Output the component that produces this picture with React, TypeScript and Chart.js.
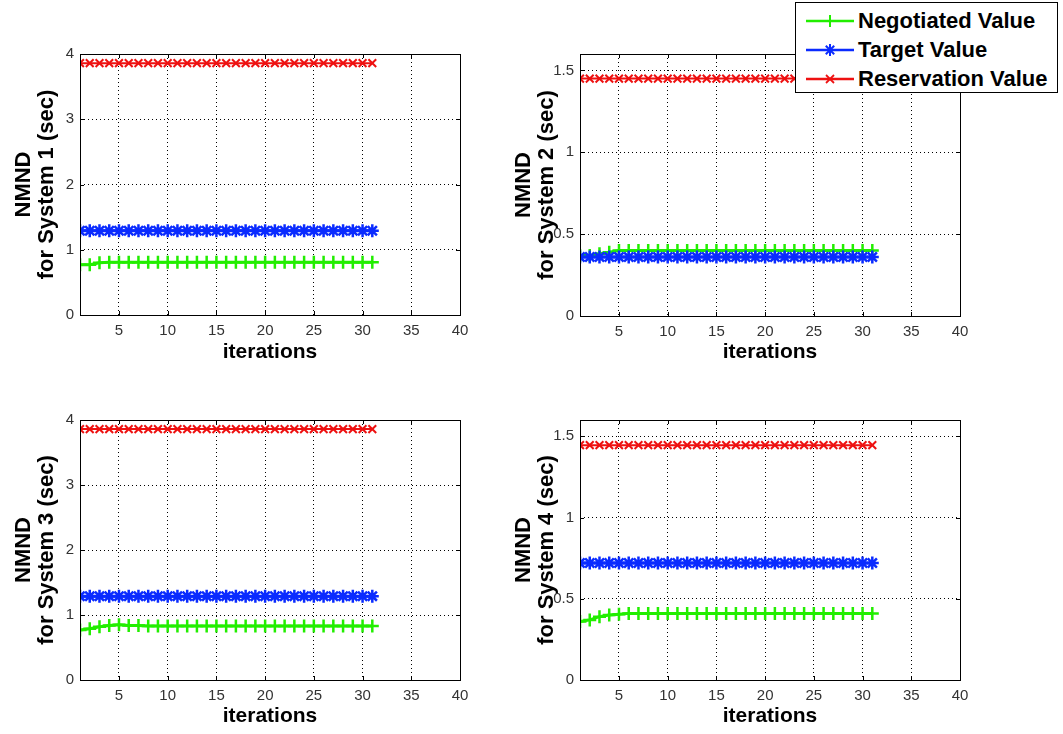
import React, { useEffect, useRef } from 'react';
import { Chart, registerables } from 'chart.js';
Chart.register(...registerables);

const iterations = [1, 2, 3, 4, 5, 6, 7, 8, 9, 10, 11, 12, 13, 14, 15, 16, 17, 18, 19, 20, 21, 22, 23, 24, 25, 26, 27, 28, 29, 30, 31];

const xTicks = [5, 10, 15, 20, 25, 30, 35, 40];
const yTicksBig = [0, 1, 2, 3, 4];
const yTicksSmall = [0, 0.5, 1, 1.5];

const seriesNames = ['Negotiated Value', 'Target Value', 'Reservation Value'];

// System 1
const negotiated1 = [0.77, 0.77, 0.8, 0.81, 0.81, 0.81, 0.81, 0.81, 0.81, 0.81, 0.81, 0.81, 0.81, 0.81, 0.81, 0.81, 0.81, 0.81, 0.81, 0.81, 0.81, 0.81, 0.81, 0.81, 0.81, 0.81, 0.81, 0.81, 0.81, 0.81, 0.81];
const target1 = [1.29, 1.29, 1.29, 1.29, 1.29, 1.29, 1.29, 1.29, 1.29, 1.29, 1.29, 1.29, 1.29, 1.29, 1.29, 1.29, 1.29, 1.29, 1.29, 1.29, 1.29, 1.29, 1.29, 1.29, 1.29, 1.29, 1.29, 1.29, 1.29, 1.29, 1.29];
const reservation1 = [3.86, 3.86, 3.86, 3.86, 3.86, 3.86, 3.86, 3.86, 3.86, 3.86, 3.86, 3.86, 3.86, 3.86, 3.86, 3.86, 3.86, 3.86, 3.86, 3.86, 3.86, 3.86, 3.86, 3.86, 3.86, 3.86, 3.86, 3.86, 3.86, 3.86, 3.86];

// System 2
const negotiated2 = [0.37, 0.37, 0.38, 0.39, 0.4, 0.4, 0.4, 0.4, 0.4, 0.4, 0.4, 0.4, 0.4, 0.4, 0.4, 0.4, 0.4, 0.4, 0.4, 0.4, 0.4, 0.4, 0.4, 0.4, 0.4, 0.4, 0.4, 0.4, 0.4, 0.4, 0.4];
const target2 = [0.36, 0.36, 0.36, 0.36, 0.36, 0.36, 0.36, 0.36, 0.36, 0.36, 0.36, 0.36, 0.36, 0.36, 0.36, 0.36, 0.36, 0.36, 0.36, 0.36, 0.36, 0.36, 0.36, 0.36, 0.36, 0.36, 0.36, 0.36, 0.36, 0.36, 0.36];
const reservation2 = [1.45, 1.45, 1.45, 1.45, 1.45, 1.45, 1.45, 1.45, 1.45, 1.45, 1.45, 1.45, 1.45, 1.45, 1.45, 1.45, 1.45, 1.45, 1.45, 1.45, 1.45, 1.45, 1.45, 1.45, 1.45, 1.45, 1.45, 1.45, 1.45, 1.45, 1.45];

// System 3
const negotiated3 = [0.77, 0.79, 0.82, 0.84, 0.85, 0.84, 0.84, 0.83, 0.83, 0.83, 0.83, 0.83, 0.83, 0.83, 0.83, 0.83, 0.83, 0.83, 0.83, 0.83, 0.83, 0.83, 0.83, 0.83, 0.83, 0.83, 0.83, 0.83, 0.83, 0.83, 0.83];
const target3 = [1.29, 1.29, 1.29, 1.29, 1.29, 1.29, 1.29, 1.29, 1.29, 1.29, 1.29, 1.29, 1.29, 1.29, 1.29, 1.29, 1.29, 1.29, 1.29, 1.29, 1.29, 1.29, 1.29, 1.29, 1.29, 1.29, 1.29, 1.29, 1.29, 1.29, 1.29];
const reservation3 = [3.86, 3.86, 3.86, 3.86, 3.86, 3.86, 3.86, 3.86, 3.86, 3.86, 3.86, 3.86, 3.86, 3.86, 3.86, 3.86, 3.86, 3.86, 3.86, 3.86, 3.86, 3.86, 3.86, 3.86, 3.86, 3.86, 3.86, 3.86, 3.86, 3.86, 3.86];

// System 4
const negotiated4 = [0.36, 0.37, 0.39, 0.4, 0.405, 0.41, 0.41, 0.41, 0.41, 0.41, 0.41, 0.41, 0.41, 0.41, 0.41, 0.41, 0.41, 0.41, 0.41, 0.41, 0.41, 0.41, 0.41, 0.41, 0.41, 0.41, 0.41, 0.41, 0.41, 0.41, 0.41];
const target4 = [0.72, 0.72, 0.72, 0.72, 0.72, 0.72, 0.72, 0.72, 0.72, 0.72, 0.72, 0.72, 0.72, 0.72, 0.72, 0.72, 0.72, 0.72, 0.72, 0.72, 0.72, 0.72, 0.72, 0.72, 0.72, 0.72, 0.72, 0.72, 0.72, 0.72, 0.72];
const reservation4 = [1.445, 1.445, 1.445, 1.445, 1.445, 1.445, 1.445, 1.445, 1.445, 1.445, 1.445, 1.445, 1.445, 1.445, 1.445, 1.445, 1.445, 1.445, 1.445, 1.445, 1.445, 1.445, 1.445, 1.445, 1.445, 1.445, 1.445, 1.445, 1.445, 1.445, 1.445];

const GREEN = '#22ee00';
const BLUE = '#0a2bff';
const RED = '#ee1111';
const FONT = "'Liberation Sans', Arial, sans-serif";

type PanelCfg = {
  left: number; top: number; width: number; height: number;
  plotLeft: number; plotTop: number; plotRight: number; plotBottom: number;
  yMax: number; yTicks: number[]; system: string;
  neg: number[]; tgt: number[]; res: number[];
};

const boxPlugin = {
  id: 'matlabBox',
  afterDraw(chart: any) {
    const { ctx, chartArea } = chart;
    const { left, top, right, bottom } = chartArea;
    ctx.save();
    ctx.strokeStyle = '#000';
    ctx.lineWidth = 1;
    ctx.setLineDash([]);
    ctx.strokeRect(Math.round(left) + 0.5, Math.round(top) + 0.5, Math.round(right - left), Math.round(bottom - top));
    const xs = chart.scales.x;
    const ys = chart.scales.y;
    ctx.beginPath();
    xs.ticks.forEach((t: any) => {
      const px = Math.round(xs.getPixelForValue(t.value)) + 0.5;
      ctx.moveTo(px, bottom); ctx.lineTo(px, bottom - 4);
      ctx.moveTo(px, top); ctx.lineTo(px, top + 4);
    });
    ys.ticks.forEach((t: any) => {
      const py = Math.round(ys.getPixelForValue(t.value)) + 0.5;
      ctx.moveTo(left, py); ctx.lineTo(left + 4, py);
      ctx.moveTo(right, py); ctx.lineTo(right - 4, py);
    });
    ctx.stroke();
    ctx.restore();
  },
};

function Panel({ cfg }: { cfg: PanelCfg }) {
  const ref = useRef<HTMLCanvasElement | null>(null);
  useEffect(() => {
    if (!ref.current) return;
    const yWidth = cfg.plotLeft - cfg.left;
    const xHeight = cfg.top + cfg.height - cfg.plotBottom;
    const mk = (vals: number[]) => iterations.map((x, i) => ({ x, y: vals[i] }));
    const chart = new Chart(ref.current, {
      type: 'line',
      data: {
        datasets: [
          { label: seriesNames[0], data: mk(cfg.neg), borderColor: GREEN, backgroundColor: GREEN, borderWidth: 3, pointStyle: 'cross', pointRadius: 6.5, pointBorderWidth: 2.5, pointBorderColor: GREEN, order: 3 },
          { label: seriesNames[1], data: mk(cfg.tgt), borderColor: BLUE, backgroundColor: BLUE, borderWidth: 3, pointStyle: 'star', pointRadius: 6.5, pointBorderWidth: 2.5, pointBorderColor: BLUE, order: 2 },
          { label: seriesNames[2], data: mk(cfg.res), borderColor: RED, backgroundColor: RED, borderWidth: 2, pointStyle: 'crossRot', pointRadius: 5.5, pointBorderWidth: 2, pointBorderColor: RED, order: 1 },
        ],
      },
      options: {
        animation: false,
        responsive: false,
        maintainAspectRatio: false,
        layout: { padding: { left: 0, top: cfg.plotTop - cfg.top, right: cfg.left + cfg.width - cfg.plotRight, bottom: 0 } },
        plugins: { legend: { display: false }, tooltip: { enabled: false } },
        elements: { line: { tension: 0 } },
        scales: {
          x: {
            type: 'linear', min: 1, max: 40,
            afterBuildTicks: (s: any) => { s.ticks = xTicks.map((v) => ({ value: v })); },
            afterFit: (s: any) => { s.height = xHeight; },
            border: { display: false, dash: [1, 3] },
            grid: { color: '#000', lineWidth: 1, drawTicks: false },
            ticks: { color: '#333', font: { family: FONT, size: 15 }, padding: 7, maxRotation: 0, callback: (v: any) => String(v) },
            title: { display: true, text: 'iterations', color: '#000', font: { family: FONT, size: 21, weight: 'bold', lineHeight: 1.1 }, padding: { top: 0, bottom: 6 } },
          },
          y: {
            type: 'linear', min: 0, max: cfg.yMax,
            afterBuildTicks: (s: any) => { s.ticks = cfg.yTicks.map((v) => ({ value: v })); },
            afterFit: (s: any) => { s.width = yWidth; },
            border: { display: false, dash: [1, 3] },
            grid: { color: '#000', lineWidth: 1, drawTicks: false },
            ticks: { color: '#333', font: { family: FONT, size: 15 }, padding: 6, callback: (v: any) => String(v) },
            title: { display: true, text: ['NMND', 'for ' + cfg.system + ' (sec)'], color: '#000', font: { family: FONT, size: 22, weight: 'bold', lineHeight: 1.05 }, padding: { top: 12, bottom: 0 } },
          },
        },
      },
      plugins: [boxPlugin],
    } as any);
    return () => chart.destroy();
  }, []);
  return (
    <div style={{ position: 'absolute', left: cfg.left, top: cfg.top, width: cfg.width, height: cfg.height }}>
      <canvas ref={ref} width={cfg.width} height={cfg.height} style={{ width: cfg.width, height: cfg.height, display: 'block' }} />
    </div>
  );
}

const panels: PanelCfg[] = [
  { left: 0, top: 0, width: 480, height: 370, plotLeft: 80, plotTop: 54, plotRight: 460, plotBottom: 315, yMax: 4, yTicks: yTicksBig, system: 'System 1', neg: negotiated1, tgt: target1, res: reservation1 },
  { left: 500, top: 0, width: 480, height: 370, plotLeft: 580, plotTop: 54, plotRight: 960, plotBottom: 316, yMax: 1.6, yTicks: yTicksSmall, system: 'System 2', neg: negotiated2, tgt: target2, res: reservation2 },
  { left: 0, top: 370, width: 480, height: 364, plotLeft: 80, plotTop: 420, plotRight: 460, plotBottom: 680, yMax: 4, yTicks: yTicksBig, system: 'System 3', neg: negotiated3, tgt: target3, res: reservation3 },
  { left: 500, top: 370, width: 480, height: 364, plotLeft: 580, plotTop: 420, plotRight: 960, plotBottom: 680, yMax: 1.6, yTicks: yTicksSmall, system: 'System 4', neg: negotiated4, tgt: target4, res: reservation4 },
];

function Marker({ kind, color }: { kind: number; color: string }) {
  const c = 34, y = 12, r = 6;
  if (kind === 0) {
    return <g stroke={color} strokeWidth={2}><line x1={c} y1={y - r} x2={c} y2={y + r} /></g>;
  }
  if (kind === 1) {
    const d = r * 0.7;
    return (
      <g stroke={color} strokeWidth={2}>
        <line x1={c} y1={y - r} x2={c} y2={y + r} />
        <line x1={c - d} y1={y - d} x2={c + d} y2={y + d} />
        <line x1={c - d} y1={y + d} x2={c + d} y2={y - d} />
      </g>
    );
  }
  const d = 4;
  return (
    <g stroke={color} strokeWidth={1.8}>
      <line x1={c - d} y1={y - d} x2={c + d} y2={y + d} />
      <line x1={c - d} y1={y + d} x2={c + d} y2={y - d} />
    </g>
  );
}

function Legend() {
  const colors = [GREEN, BLUE, RED];
  return (
    <div style={{ position: 'absolute', left: 795, top: 2, width: 263, height: 91, border: '1px solid #000', background: '#fff', boxSizing: 'border-box', zIndex: 5, paddingTop: 3 }}>
      {seriesNames.map((n, i) => (
        <div key={n} style={{ display: 'flex', alignItems: 'center', height: 29 }}>
          <svg width={62} height={24} style={{ flex: 'none' }}>
            <line x1={10} y1={12} x2={58} y2={12} stroke={colors[i]} strokeWidth={2.5} />
            <Marker kind={i} color={colors[i]} />
          </svg>
          <span style={{ fontFamily: FONT, fontWeight: 'bold', fontSize: 22, color: '#000', whiteSpace: 'nowrap' }}>{n}</span>
        </div>
      ))}
    </div>
  );
}

export default function App() {
  return (
    <div style={{ position: 'absolute', left: 0, top: 0, width: 1063, height: 734, background: '#fff', overflow: 'hidden' }}>
      {panels.map((p) => <Panel key={p.system} cfg={p} />)}
      <Legend />
    </div>
  );
}
